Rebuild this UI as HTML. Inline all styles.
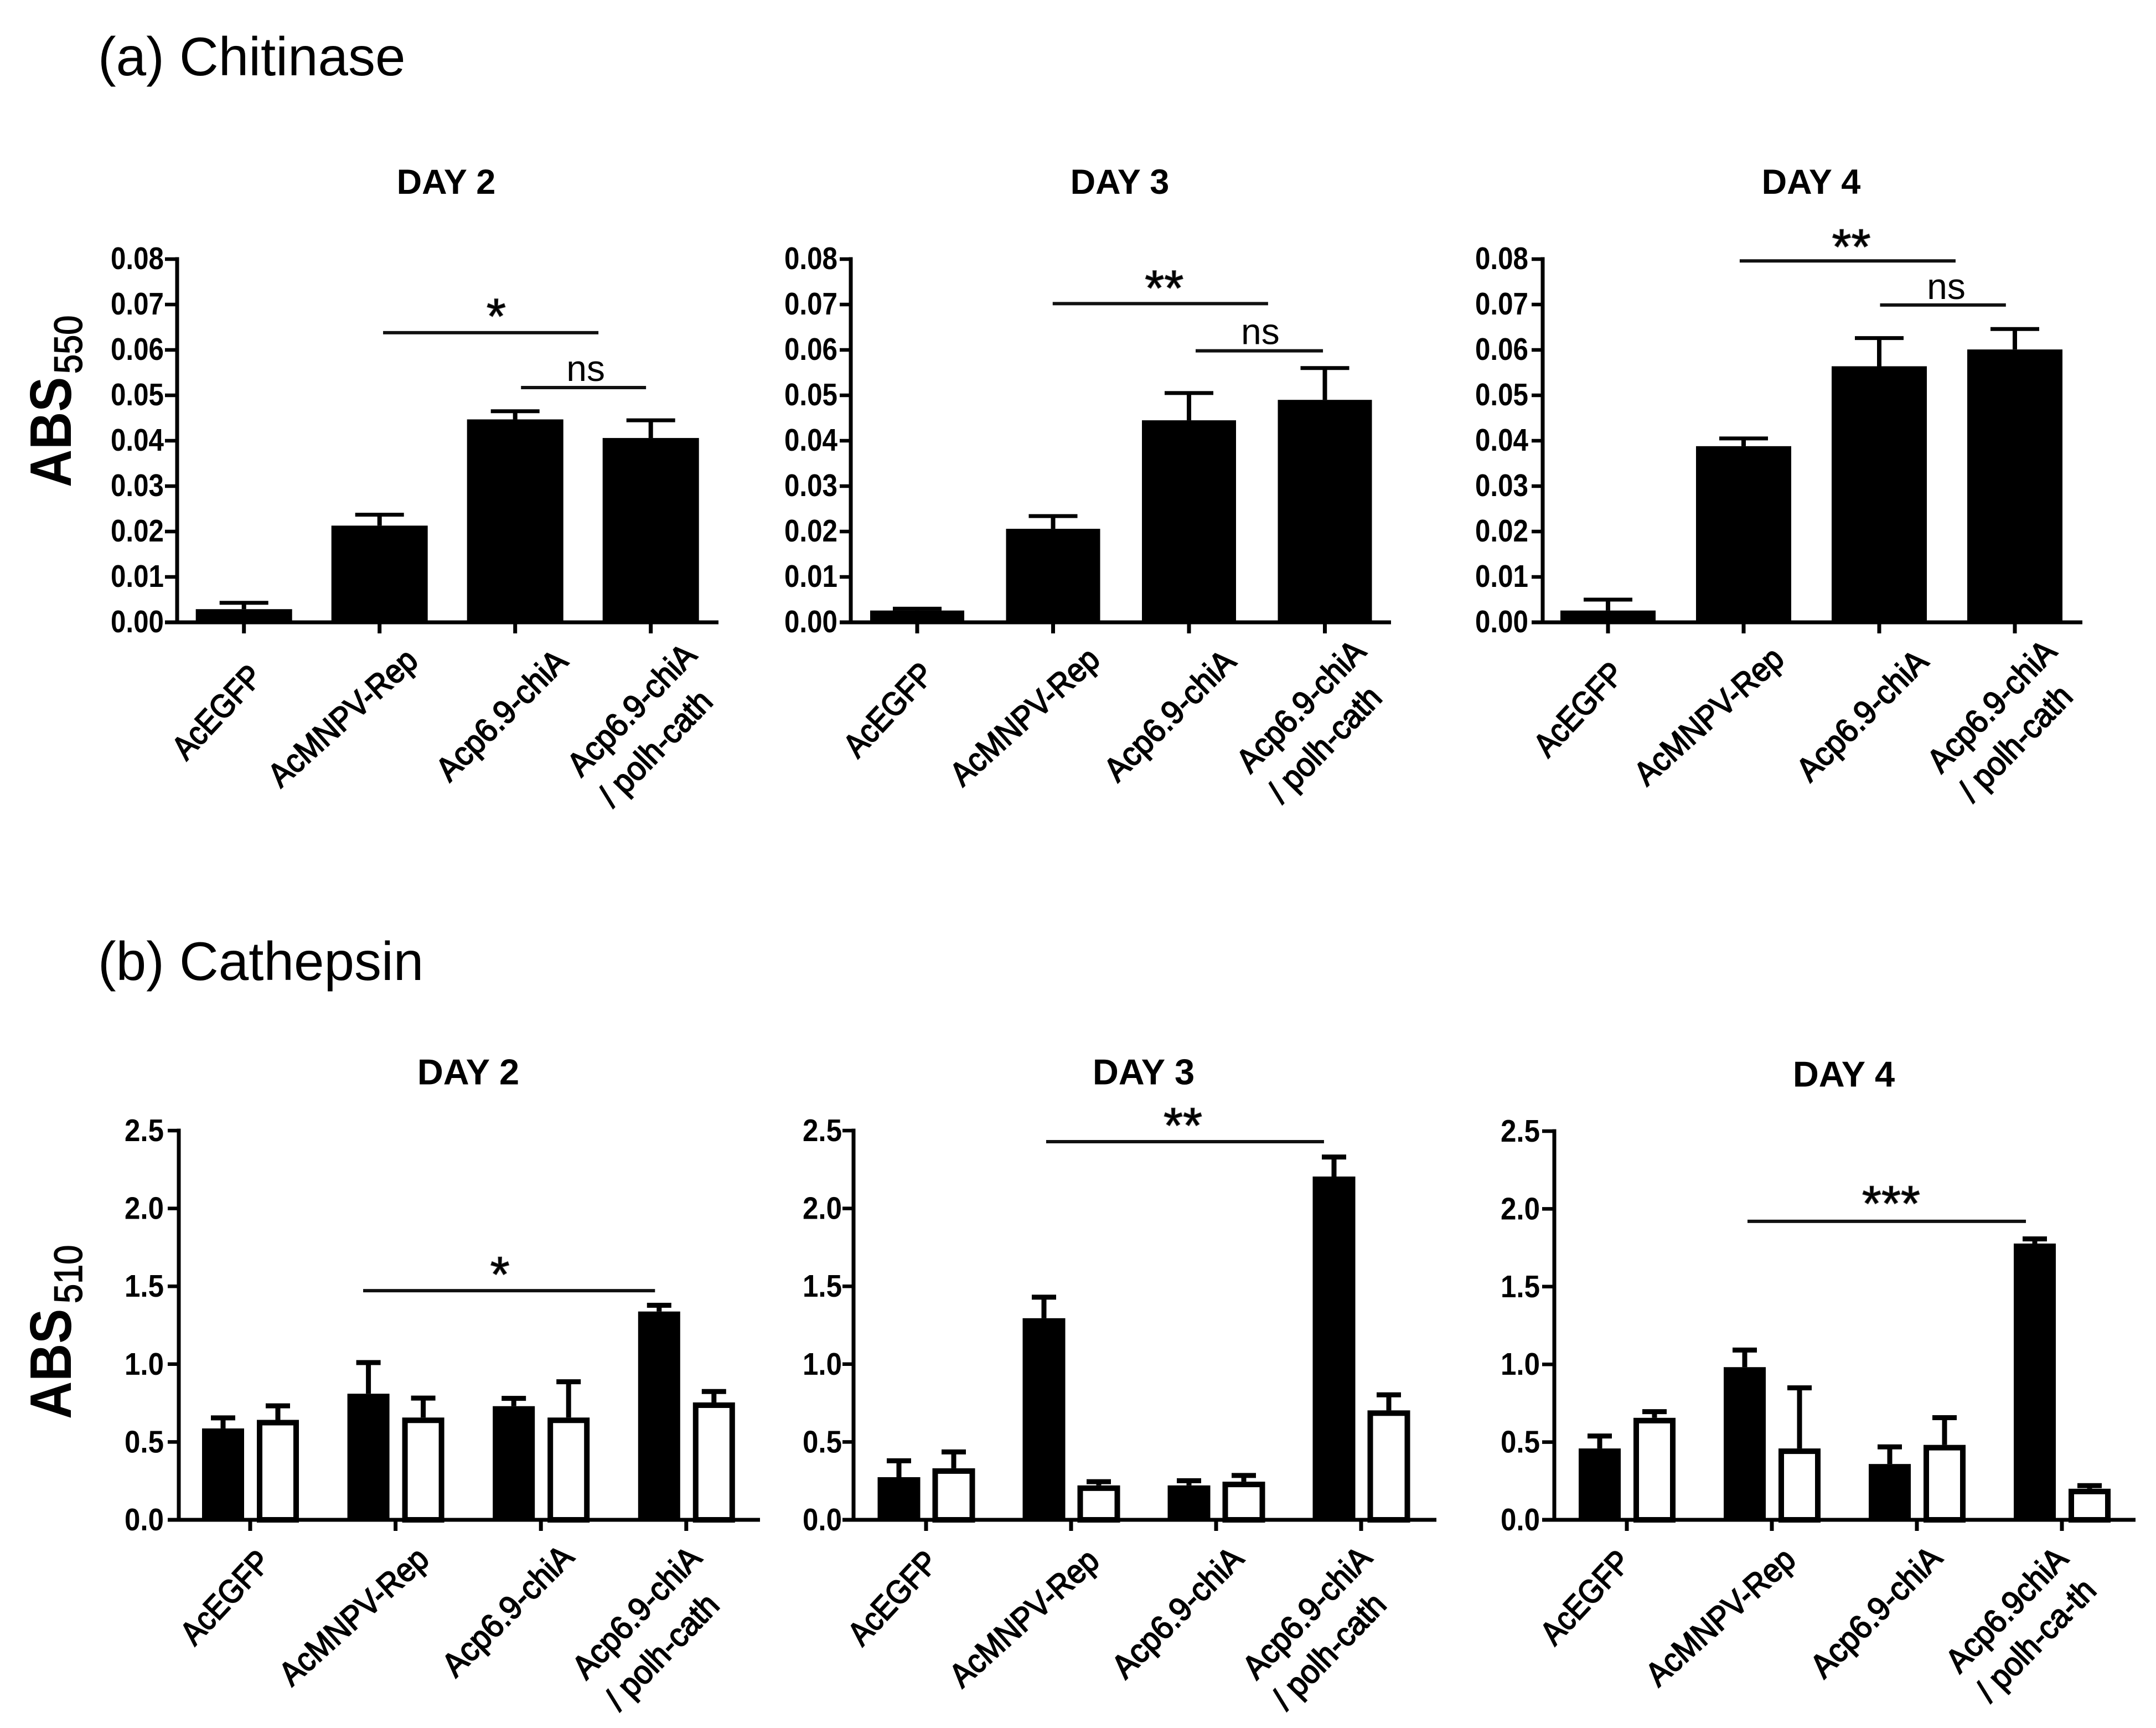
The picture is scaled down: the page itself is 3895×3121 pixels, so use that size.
<!DOCTYPE html>
<html lang="en">
<head>
<meta charset="utf-8">
<title>Chitinase and Cathepsin bar charts</title>
<style>
html,body{margin:0;padding:0;background:#fff;}
svg{display:block;}
text{font-family:"Liberation Sans",sans-serif;fill:#000;}
</style>
</head>
<body>
<svg id="figure" xmlns="http://www.w3.org/2000/svg" width="3895" height="3121" viewBox="0 0 3895 3121">
  <rect x="0" y="0" width="3895" height="3121" fill="#fff"></rect>
  <text x="177" y="136" font-size="98" fill="#222">(a) Chitinase</text>
  <text x="177" y="1770" font-size="98" fill="#222">(b) Cathepsin</text>
  <text transform="translate(128 880) rotate(-90) scale(0.89 1)" font-size="106" font-weight="bold">ABS</text>
  <text transform="translate(148 675) rotate(-90) scale(0.89 1)" font-size="71" stroke="#000" stroke-width="1.5">550</text>
  <text transform="translate(128 2563) rotate(-90) scale(0.89 1)" font-size="106" font-weight="bold">ABS</text>
  <text transform="translate(148 2354) rotate(-90) scale(0.89 1)" font-size="71" stroke="#000" stroke-width="1.5">510</text>
</svg>
<script>
// ---- chart data ----
const chitinaseTicks = ['0.00','0.01','0.02','0.03','0.04','0.05','0.06','0.07','0.08'];
const cathepsinTicks = ['0.0','0.5','1.0','1.5','2.0','2.5'];

const categoriesStd = [['AcEGFP'],['AcMNPV-Rep'],['Acp6.9-chiA'],['Acp6.9-chiA','/ polh-cath']];
const categoriesDay4 = [['AcEGFP'],['AcMNPV-Rep'],['Acp6.9-chiA'],['Acp6.9chiA','/ polh-ca-th']];

const chiDay2Values = [0.0029,0.0213,0.0447,0.0406];
const chiDay2Errors = [0.0014,0.0024,0.0018,0.0039];
const chiDay3Values = [0.0026,0.0206,0.0445,0.049];
const chiDay3Errors = [0.0004,0.0028,0.006,0.007];
const chiDay4Values = [0.0026,0.0388,0.0564,0.0601];
const chiDay4Errors = [0.0024,0.0017,0.0062,0.0045];

const catDay2Black = [0.587,0.81,0.73,1.338];
const catDay2BlackErr = [0.068,0.2,0.05,0.04];
const catDay2White = [0.642,0.657,0.657,0.754];
const catDay2WhiteErr = [0.09,0.125,0.23,0.07];
const catDay3Black = [0.274,1.295,0.221,2.205];
const catDay3BlackErr = [0.105,0.135,0.03,0.125];
const catDay3White = [0.331,0.221,0.245,0.703];
const catDay3WhiteErr = [0.105,0.024,0.04,0.1];
const catDay4Black = [0.459,0.982,0.359,1.777];
const catDay4BlackErr = [0.08,0.11,0.11,0.03];
const catDay4White = [0.656,0.459,0.482,0.2];
const catDay4WhiteErr = [0.04,0.39,0.175,0.02];

// ---- drawing helpers ----
const NS = 'http://www.w3.org/2000/svg';
const fig = document.getElementById('figure');
function mk(tag, attrs, parent){
  const el = document.createElementNS(NS, tag);
  for (const k in attrs) el.setAttribute(k, attrs[k]);
  (parent || fig).appendChild(el);
  return el;
}
function drawPanel(p){
  const g = mk('g', {});
  
  
  const maxV = parseFloat(p.ticks[p.ticks.length-1]);
  const y = v => p.yBase - (v / maxV) * (p.yBase - p.yTop);
  const x = i => p.x0 + p.step * i;

  const title = mk('text', {x:p.titleX, y:p.titleY, 'font-size':p.titleSize, 'font-weight':'bold', 'text-anchor':'middle', 'dominant-baseline':'central'}, g);
  
  
  title.textContent = p.title;

  p.series.forEach(function(s, si){
    s.values.forEach(function(v, i){
      const cx = x(i) + s.offset;
      const top = y(v);
      const capY = y(v + s.errors[i]);
      const stem = mk('line', {x1:cx, x2:cx, y1:top, y2:capY, stroke:'#000', 'stroke-width':p.stemW}, g);
      
      
      const cap = mk('line', {x1:cx-p.capHalf, x2:cx+p.capHalf, y1:capY, y2:capY, stroke:'#000', 'stroke-width':p.capW}, g);
      
      
      let bar;
      if (s.white) {
        const sw = p.barStroke;
        bar = mk('rect', {x:cx-p.barW/2+sw/2, y:top+sw/2, width:p.barW-sw, height:p.yBase-top-sw/2, fill:'#fff', stroke:'#000', 'stroke-width':sw}, g);
      } else {
        bar = mk('rect', {x:cx-p.barW/2, y:top, width:p.barW, height:p.yBase-top, fill:'#000'}, g);
      }
      
      
    });
  });

  const yAxis = mk('line', {x1:p.axisX, x2:p.axisX, y1:p.yTop-p.axisW/2, y2:p.yBase, stroke:'#000', 'stroke-width':p.axisW}, g);
  
  
  const xAxis = mk('line', {x1:p.tickLeft, x2:p.xEnd, y1:p.yBase, y2:p.yBase, stroke:'#000', 'stroke-width':p.axisW}, g);
  
  

  p.ticks.forEach(function(t){
    const ty = y(parseFloat(t));
    const tick = mk('line', {x1:p.tickLeft, x2:p.axisX, y1:ty, y2:ty, stroke:'#000', 'stroke-width':p.axisW-0.5}, g);
    
    
    const lab = mk('text', {x:p.labelRight, y:ty+p.tickLift, 'font-size':p.tickSize, 'font-weight':'bold', 'text-anchor':'end', 'dominant-baseline':'central', textLength:p.tickLen, lengthAdjust:'spacingAndGlyphs'}, g);
    
    
    lab.textContent = t;
  });

  p.categories.forEach(function(lines, i){
    const tick = mk('line', {x1:x(i), x2:x(i), y1:p.yBase, y2:p.yBase+20, stroke:'#000', 'stroke-width':p.axisW}, g);
    
    
    lines.forEach(function(str, li){
      const place = p.labelPlace[i][li];
      const lab = mk('text', {x:place[0], y:place[1], 'font-size':60, stroke:'#000', 'stroke-width':2, 'text-anchor':'middle', 'dominant-baseline':'central', textLength:place[3], lengthAdjust:'spacingAndGlyphs', transform:'rotate(-'+place[2]+' '+place[0]+' '+place[1]+')'}, g);
      
      
      lab.textContent = str;
    });
  });

  p.sig.forEach(function(s){
    const sy = y(s.level);
    const line = mk('line', {x1:x(s.from), x2:x(s.to), y1:sy, y2:sy, stroke:'#111', 'stroke-width':6}, g);
    
    
    const isStar = s.text.charAt(0) === '*';
    const fs = isStar ? 90 : 66;
    const ty = isStar ? sy + s.lift + 0.56*fs : sy + s.lift;
    const lab = mk('text', {x:x(s.at), y:ty, 'font-size':fs, 'text-anchor':'middle', fill:'#222', stroke:isStar ? '#222' : 'none', 'stroke-width':isStar ? 1.5 : 0}, g);
    
    
    lab.textContent = s.text;
  });
}

const shared = {stemW:8, capW:7, capHalf:44, axisW:7, barStroke:0, tickSize:57, tickLen:96, tickLift:-1, titleSize:63, yBase:1124, yTop:468};
const sharedB = {stemW:9, capW:9, capHalf:22, axisW:7, barStroke:10, tickSize:57, tickLen:71, tickLift:0, titleSize:65, barW:76, yBase:2745};

drawPanel(Object.assign({}, shared, {
  name:'chitinase-day-2', title:'DAY 2', titleX:806, titleY:329, ticks:chitinaseTicks, categories:categoriesStd,
  axisX:320, tickLeft:298, xEnd:1298, x0:440.7, step:245, barW:174, labelRight:296,
  series:[{values:chiDay2Values, errors:chiDay2Errors, offset:0}],
  labelPlace:[[[392,1286,47,206]],[[619,1296,42,338]],[[906,1291.5,45,306]],[[1141,1281.5,46,304],[1184,1351,46,264]]],
  sig:[{from:1.026,to:2.614,at:1.86,level:0.0638,lift:-49,text:'*'},{from:2.043,to:2.965,at:2.52,level:0.0517,lift:-12,text:'ns'}]
}));
drawPanel(Object.assign({}, shared, {
  name:'chitinase-day-3', title:'DAY 3', titleX:2023, titleY:329, ticks:chitinaseTicks, categories:categoriesStd,
  axisX:1537, tickLeft:1517, xEnd:2513, x0:1657, step:245.5, barW:170, labelRight:1513,
  series:[{values:chiDay3Values, errors:chiDay3Errors, offset:0}],
  labelPlace:[[[1605,1282,47,206]],[[1851,1294,42,338]],[[2113,1292,45,306]],[[2350,1275,46,304],[2393,1344,46,264]]],
  sig:[{from:0.997,to:2.582,at:1.818,level:0.0702,lift:-48,text:'**'},{from:2.049,to:2.986,at:2.525,level:0.0598,lift:-12,text:'ns'}]
}));
drawPanel(Object.assign({}, shared, {
  name:'chitinase-day-4', title:'DAY 4', titleX:3272, titleY:329, ticks:chitinaseTicks, categories:categoriesStd,
  axisX:2787, tickLeft:2767, xEnd:3762, x0:2905, step:245, barW:172, labelRight:2761,
  series:[{values:chiDay4Values, errors:chiDay4Errors, offset:0}],
  labelPlace:[[[2852,1281,47,206]],[[3087,1293,42,338]],[[3364,1292,45,306]],[[3598,1275,46,304],[3641,1342,46,264]]],
  sig:[{from:0.971,to:2.563,at:1.794,level:0.0796,lift:-45,text:'**'},{from:2.006,to:2.934,at:2.494,level:0.0699,lift:-11,text:'ns'}]
}));
drawPanel(Object.assign({}, sharedB, {
  name:'cathepsin-day-2', title:'DAY 2', titleX:846, titleY:1936, ticks:cathepsinTicks, categories:categoriesStd,
  axisX:323, tickLeft:303, xEnd:1373, yTop:2042, x0:452, step:262.6, labelRight:296,
  series:[{values:catDay2Black, errors:catDay2BlackErr, offset:-49},{values:catDay2White, errors:catDay2WhiteErr, offset:50, white:true}],
  labelPlace:[[[407,2885,47,206]],[[639,2919,42,338]],[[917,2909,45,306]],[[1150,2912,46,304],[1196,2983,46,264]]],
  sig:[{from:0.777,to:2.785,at:1.718,level:1.472,lift:-49,text:'*'}]
}));
drawPanel(Object.assign({}, sharedB, {
  name:'cathepsin-day-3', title:'DAY 3', titleX:2066, titleY:1936, ticks:cathepsinTicks, categories:categoriesStd,
  axisX:1542, tickLeft:1522, xEnd:2595, yTop:2042, x0:1673, step:262, barW:77, labelRight:1521,
  series:[{values:catDay3Black, errors:catDay3BlackErr, offset:-49},{values:catDay3White, errors:catDay3WhiteErr, offset:50, white:true}],
  labelPlace:[[[1613,2886,47,206]],[[1850,2922,42,338]],[[2127,2912,45,306]],[[2361,2912,46,304],[2401,2982,46,264]]],
  sig:[{from:0.828,to:2.744,at:1.771,level:2.429,lift:-49,text:'**'}]
}));
drawPanel(Object.assign({}, sharedB, {
  name:'cathepsin-day-4', title:'DAY 4', titleX:3331, titleY:1940, ticks:cathepsinTicks, categories:categoriesDay4,
  axisX:2808, tickLeft:2786, xEnd:3858, yTop:2043, x0:2939, step:262, labelRight:2782,
  series:[{values:catDay4Black, errors:catDay4BlackErr, offset:-49},{values:catDay4White, errors:catDay4WhiteErr, offset:50, white:true}],
  labelPlace:[[[2864,2885,47,206]],[[3108,2920,42,338]],[[3389,2911,45,306]],[[3625,2907,46,286],[3678,2962,46,280]]],
  sig:[{from:0.832,to:2.752,at:1.822,level:1.92,lift:-52,text:'***'}]
}));
</script>
</body>
</html>
